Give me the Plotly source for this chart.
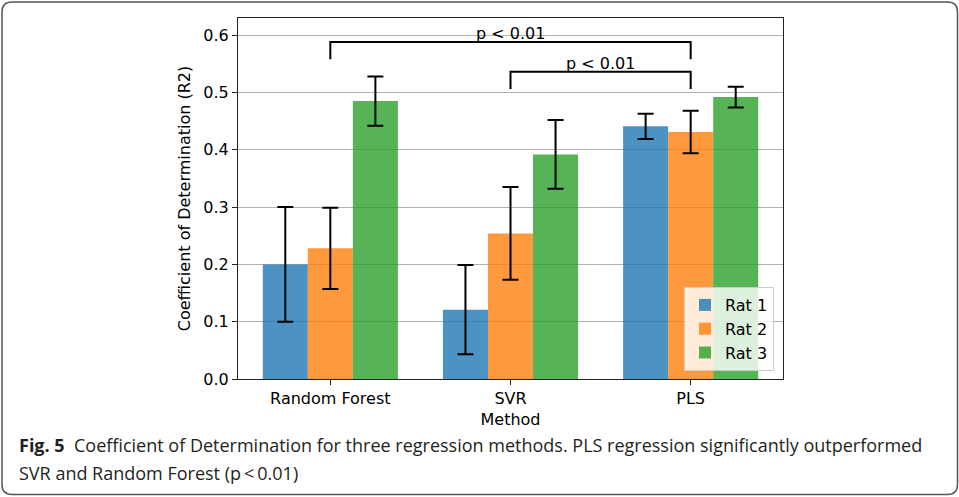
import plotly.graph_objects as go

# ---- data ----
methods = ["Random Forest", "SVR", "PLS"]
series_names = ["Rat 1", "Rat 2", "Rat 3"]
rat1 = [0.200, 0.121, 0.441]
rat2 = [0.228, 0.254, 0.431]
rat3 = [0.485, 0.392, 0.492]
err1 = [0.100, 0.078, 0.022]
err2 = [0.071, 0.081, 0.037]
err3 = [0.043, 0.060, 0.018]
y_ticks = [0.0, 0.1, 0.2, 0.3, 0.4, 0.5, 0.6]
sig_pairs = [(0, 2), (1, 2)]
sig_heights = [0.588, 0.536]
sig_labels = ["p < 0.01", "p < 0.01"]
sig_leg = 0.03
caption_bold = "Fig. 5"
caption_line1 = "Coefficient of Determination for three regression methods. PLS regression significantly outperformed"
caption_line2 = "SVR and Random Forest (p\u2009<\u20090.01)"

colors = ["rgba(31,119,180,0.8)", "rgba(255,127,14,0.8)", "rgba(44,160,44,0.8)"]

W, H = 959, 497
ML, MR, MT, MB = 238, 176, 18, 118
PW, PH = W - ML - MR, H - MT - MB


def px_x(px):
    return (px - ML) / PW


def px_y(py):
    return (H - MB - py) / PH


xs = list(range(len(methods)))
fig = go.Figure()
for name, vals, errs, col in zip(series_names, [rat1, rat2, rat3], [err1, err2, err3], colors):
    fig.add_trace(go.Bar(
        x=xs, y=vals, name=name,
        marker=dict(color=col, line=dict(width=0)),
        error_y=dict(type="data", array=errs, visible=True, color="black", thickness=2, width=8),
    ))

shapes = []
annotations = []
for (a, b), h, lab in zip(sig_pairs, sig_heights, sig_labels):
    shapes.append(dict(type="path", xref="x", yref="y",
                       path=f"M {a},{h - sig_leg} L {a},{h} L {b},{h} L {b},{h - sig_leg}",
                       line=dict(color="black", width=2)))
    annotations.append(dict(x=(a + b) / 2, y=h, xref="x", yref="y", text=lab, showarrow=False,
                            yanchor="bottom", yshift=-3,
                            font=dict(family="DejaVu Sans", size=16, color="black")))

# outer rounded border
L, R, T, B, r = 2, 957.5, 2, 494.5, 10
pts = [
    f"M {px_x(L + r)},{px_y(T)}",
    f"L {px_x(R - r)},{px_y(T)}",
    f"Q {px_x(R)},{px_y(T)} {px_x(R)},{px_y(T + r)}",
    f"L {px_x(R)},{px_y(B - r)}",
    f"Q {px_x(R)},{px_y(B)} {px_x(R - r)},{px_y(B)}",
    f"L {px_x(L + r)},{px_y(B)}",
    f"Q {px_x(L)},{px_y(B)} {px_x(L)},{px_y(B - r)}",
    f"L {px_x(L)},{px_y(T + r)}",
    f"Q {px_x(L)},{px_y(T)} {px_x(L + r)},{px_y(T)} Z",
]
shapes.append(dict(type="path", xref="paper", yref="paper", path=" ".join(pts),
                   line=dict(color="#555555", width=1.5), layer="above"))

cap_font = dict(family="Open Sans", size=18, color="#231f20")
annotations.append(dict(x=px_x(17), y=px_y(445), xref="paper", yref="paper", xanchor="left", yanchor="middle",
                        showarrow=False, text=f"<b>{caption_bold}</b>  {caption_line1}", font=cap_font))
annotations.append(dict(x=px_x(17), y=px_y(473), xref="paper", yref="paper", xanchor="left", yanchor="middle",
                        showarrow=False, text=caption_line2, font=cap_font))

axis_title_font = dict(family="DejaVu Sans", size=16, color="black")
fig.update_layout(
    width=W, height=H,
    margin=dict(l=ML, r=MR, t=MT, b=MB, pad=0),
    paper_bgcolor="white", plot_bgcolor="white",
    barmode="group", bargap=0.25, bargroupgap=0,
    font=dict(family="DejaVu Sans", size=16, color="black"),
    shapes=shapes, annotations=annotations,
    legend=dict(x=px_x(774), y=px_y(371), xanchor="right", yanchor="bottom",
                bgcolor="rgba(255,255,255,0.8)", bordercolor="#cccccc", borderwidth=1,
                font=dict(family="DejaVu Sans", size=16), traceorder="normal", itemwidth=30),
    xaxis=dict(range=[-0.5125, 2.5125], tickvals=xs, ticktext=methods, showgrid=False, zeroline=False,
               showline=True, linecolor="#222222", linewidth=1.2, mirror=True,
               ticks="outside", ticklen=5, tickcolor="#222222",
               title=dict(text="Method", standoff=6, font=axis_title_font)),
    yaxis=dict(range=[0, 0.63], tickvals=y_ticks, ticktext=[f"{v:.1f}" for v in y_ticks],
               showgrid=True, gridcolor="#b0b0b0", gridwidth=1, zeroline=False,
               showline=True, linecolor="#222222", linewidth=1.2, mirror=True,
               ticks="outside", ticklen=5, tickcolor="#222222",
               title=dict(text="Coefficient of Determination (R2)", standoff=8, font=axis_title_font)),
)

fig.write_html("out.html")
